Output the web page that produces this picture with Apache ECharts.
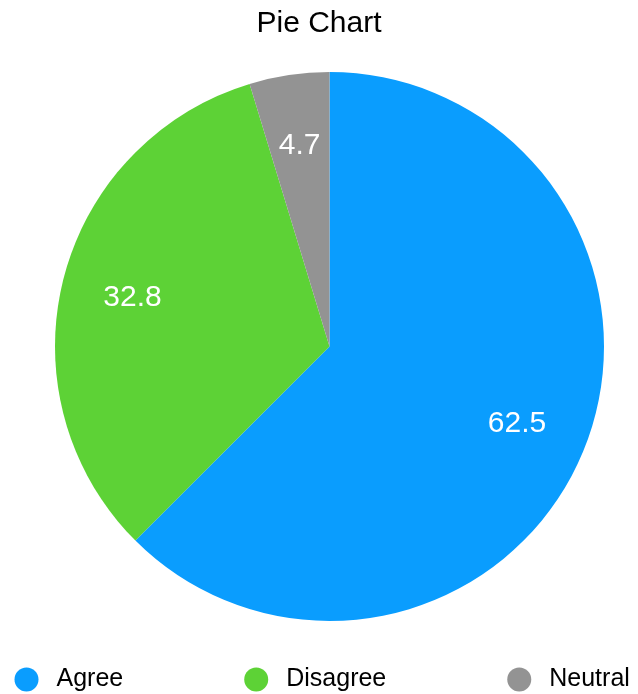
<!DOCTYPE html>
<html>
<head>
<meta charset="utf-8">
<title>Pie Chart</title>
<script src="https://cdn.jsdelivr.net/npm/echarts@6/dist/echarts.min.js"></script>
<style>
  html, body { margin: 0; padding: 0; background: #ffffff; }
  #chart { width: 638px; height: 694px; }
</style>
</head>
<body>
<div id="chart"></div>
<script>
// Survey responses, in percent
const categories = ['Agree', 'Disagree', 'Neutral'];
const values = [62.5, 32.8, 4.7];
const colors = ['#0a9dfe', '#5dd236', '#939393'];

const FONT = '"Liberation Sans", Helvetica, Arial, sans-serif';

const sliceData = categories.map((name, i) => ({
  name: name,
  value: values[i],
  itemStyle: { color: colors[i] }
}));

// Transparent ring carrying the value labels, so they sit ~73% out from the centre
const labelData = categories.map((name, i) => ({
  name: name,
  value: values[i],
  itemStyle: { color: 'rgba(0,0,0,0)' }
}));

const chart = echarts.init(document.getElementById('chart'), null, { renderer: 'canvas' });

chart.setOption({
  animation: false,
  backgroundColor: '#ffffff',
  title: {
    text: 'Pie Chart',
    left: 'center',
    top: 4,
    textStyle: {
      fontFamily: FONT,
      fontSize: 30,
      fontWeight: 'normal',
      color: '#000000'
    }
  },
  legend: {
    data: categories,
    left: 9.5,
    top: 662,
    orient: 'horizontal',
    icon: 'circle',
    itemWidth: 30,
    itemHeight: 24,
    itemGap: 121,
    selectedMode: false,
    textStyle: {
      fontFamily: FONT,
      fontSize: 25,
      color: '#000000',
      padding: [0, 0, 0, 10]
    }
  },
  series: [
    {
      name: 'Responses',
      type: 'pie',
      center: [329.5, 346.5],
      radius: [0, 274.5],
      startAngle: 90,
      clockwise: true,
      silent: true,
      label: { show: false },
      labelLine: { show: false },
      itemStyle: { borderWidth: 0 },
      data: sliceData
    },
    {
      name: 'Values',
      type: 'pie',
      center: [329.5, 346.5],
      radius: [125, 275],
      startAngle: 90,
      clockwise: true,
      silent: true,
      legendHoverLink: false,
      label: {
        show: true,
        position: 'inside',
        formatter: '{c}',
        fontFamily: FONT,
        fontSize: 30,
        color: '#ffffff'
      },
      labelLine: { show: false },
      itemStyle: { borderWidth: 0 },
      data: labelData
    }
  ]
});
</script>
</body>
</html>
